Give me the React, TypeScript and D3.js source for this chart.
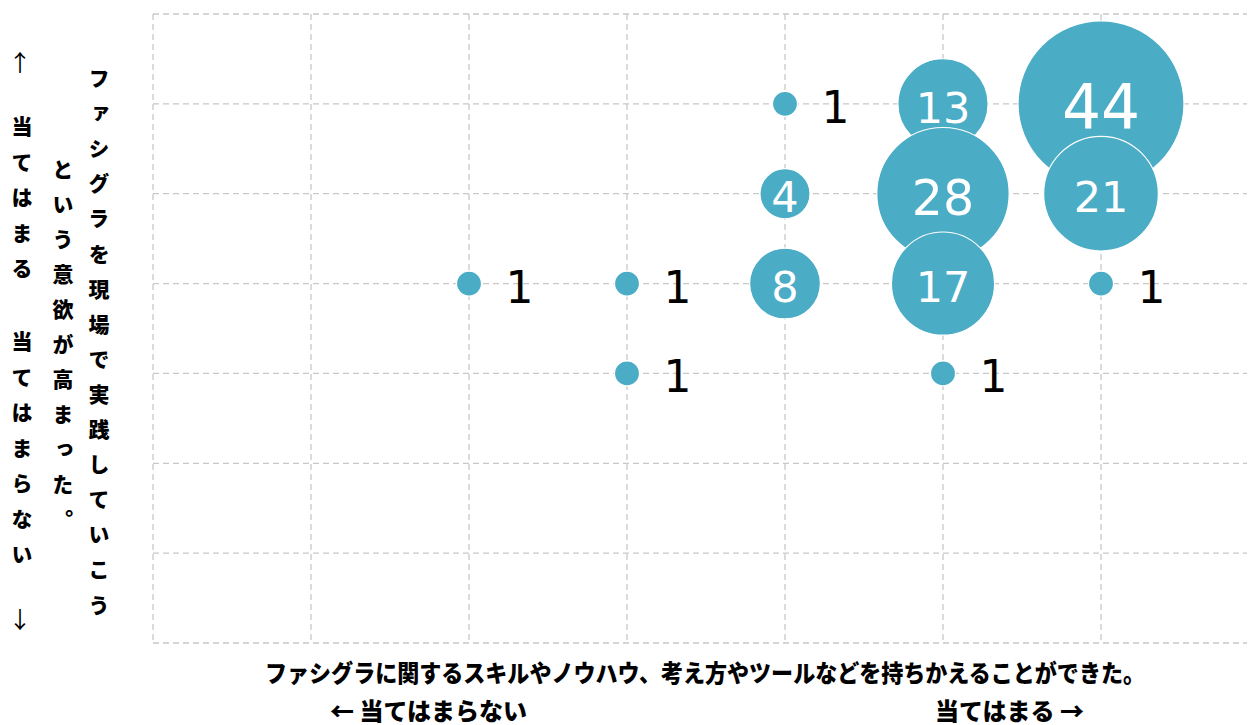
import * as d3 from 'd3';
import React, { useEffect, useRef } from 'react';

// bubble data (x = スキル持ち帰り, y = 実践意欲, score 0..7)
const xValues = [2, 3, 3, 4, 4, 4, 5, 5, 5, 5, 6, 6, 6];
const yValues = [4, 4, 3, 6, 5, 4, 6, 5, 4, 3, 6, 5, 4];
const counts = [1, 1, 1, 1, 4, 8, 13, 28, 17, 1, 44, 21, 1];

const gridTicks = [0, 1, 2, 3, 4, 5, 6, 7];

const xTitle = 'ファシグラに関するスキルやノウハウ、考え方やツールなどを持ちかえることができた。';
const xLowLabel = '← 当てはまらない';
const xHighLabel = '当てはまる →';
const yTitleLine1 = 'ファシグラを現場で実践していこう';
const yTitleLine2 = 'という意欲が高まった。';
const yHighLabel = '当てはまる';
const yLowLabel = '当てはまらない';

const WIDTH = 1250;
const HEIGHT = 725;
const COLOR = '#4bacc6';
const JP_FONT = '"Noto Sans CJK JP", "Noto Sans", sans-serif';
const NUM_FONT = '"DejaVu Sans", Verdana, sans-serif';

function App() {
  const node = useRef<SVGSVGElement | null>(null);

  useEffect(() => {
    const svg = d3.select(node.current);
    svg.selectAll('*').remove();

    const left = 153;
    const right = 1247;
    const top = 14;
    const bottom = 643;

    const x = d3.scaleLinear().domain([0, 7]).range([left, 1259]);
    const y = d3.scaleLinear().domain([0, 7]).range([bottom, top]);
    const r = d3.scaleSqrt().domain([0, 44]).range([0, 83]);

    // grid
    const grid = svg.append('g').attr('fill', 'none').attr('stroke', '#c8c8c8')
      .attr('stroke-width', 1.3).attr('stroke-dasharray', '6,4');
    grid.selectAll('line.h')
      .data(gridTicks)
      .enter()
      .append('line')
      .attr('class', 'h')
      .attr('x1', left)
      .attr('x2', right)
      .attr('y1', (d) => y(d))
      .attr('y2', (d) => y(d));
    grid.selectAll('line.v')
      .data(gridTicks.filter((d) => x(d) <= right))
      .enter()
      .append('line')
      .attr('class', 'v')
      .attr('x1', (d) => x(d))
      .attr('x2', (d) => x(d))
      .attr('y1', top)
      .attr('y2', bottom);

    const points = counts.map((c, i) => ({ x: xValues[i], y: yValues[i], c }));
    // upper bubbles first so the lower ones overlap them
    points.sort((a, b) => b.y - a.y || a.x - b.x);

    const bubbles = svg.append('g');
    bubbles.selectAll('circle')
      .data(points)
      .enter()
      .append('circle')
      .attr('cx', (d) => x(d.x))
      .attr('cy', (d) => y(d.y))
      .attr('r', (d) => r(d.c))
      .attr('fill', COLOR)
      .attr('stroke', '#fff')
      .attr('stroke-width', 1.2);

    const fontSize = (d) => (d.c > 1 ? Math.max(43, r(d.c) * 0.74) : 44);
    svg.append('g')
      .selectAll('text')
      .data(points)
      .enter()
      .append('text')
      .attr('x', (d) => (d.c > 1 ? x(d.x) : x(d.x) + r(d.c) + 24))
      .attr('y', (d) => y(d.y) + fontSize(d) * 0.365 + 3)
      .attr('text-anchor', (d) => (d.c > 1 ? 'middle' : 'start'))
      .attr('font-family', NUM_FONT)
      .attr('font-size', fontSize)
      .attr('fill', (d) => (d.c > 1 ? '#fff' : '#000'))
      .text((d) => d.c);

    // x axis titles
    svg.append('text')
      .attr('x', 705)
      .attr('y', 671)
      .attr('text-anchor', 'middle')
      .attr('dominant-baseline', 'central')
      .attr('font-family', JP_FONT)
      .attr('font-weight', 900)
      .attr('font-size', 24)
      .attr('textLength', 880)
      .attr('lengthAdjust', 'spacingAndGlyphs')
      .text(xTitle);
    svg.append('text')
      .attr('x', 330)
      .attr('y', 709)
      .attr('dominant-baseline', 'central')
      .attr('font-family', JP_FONT)
      .attr('font-weight', 900)
      .attr('font-size', 24)
      .text(xLowLabel);
    svg.append('text')
      .attr('x', 935)
      .attr('y', 709)
      .attr('dominant-baseline', 'central')
      .attr('font-family', JP_FONT)
      .attr('font-weight', 900)
      .attr('font-size', 24)
      .text(xHighLabel);

    // vertical y axis titles, one glyph at a time
    function vertical(str: string, cx: number, y0: number, step: number) {
      svg.append('g')
        .selectAll('text')
        .data(Array.from(str))
        .enter()
        .append('text')
        .attr('x', cx)
        .attr('y', (d, i) => y0 + i * step)
        .attr('text-anchor', 'middle')
        .attr('dominant-baseline', 'central')
        .attr('font-family', JP_FONT)
        .attr('font-weight', 900)
        .attr('font-size', 21)
        .style('font-feature-settings', '"vert"')
        .text((d) => d);
    }
    vertical(yTitleLine1, 99, 77, 35.1);
    vertical(yTitleLine2, 63, 168, 35);
    vertical(yHighLabel, 22, 125, 35.5);
    vertical(yLowLabel, 22, 340, 35.5);

    svg.append('text').attr('x', 20).attr('y', 61)
      .attr('text-anchor', 'middle').attr('dominant-baseline', 'central')
      .attr('font-family', JP_FONT).attr('font-size', 23).text('↑');
    svg.append('text').attr('x', 20).attr('y', 618)
      .attr('text-anchor', 'middle').attr('dominant-baseline', 'central')
      .attr('font-family', JP_FONT).attr('font-size', 23).text('↓');
  }, []);

  return (
    <svg
      ref={node}
      width={WIDTH}
      height={HEIGHT}
      style={{ position: 'absolute', left: 0, top: 0, background: '#fff' }}
    />
  );
}

export default App;
